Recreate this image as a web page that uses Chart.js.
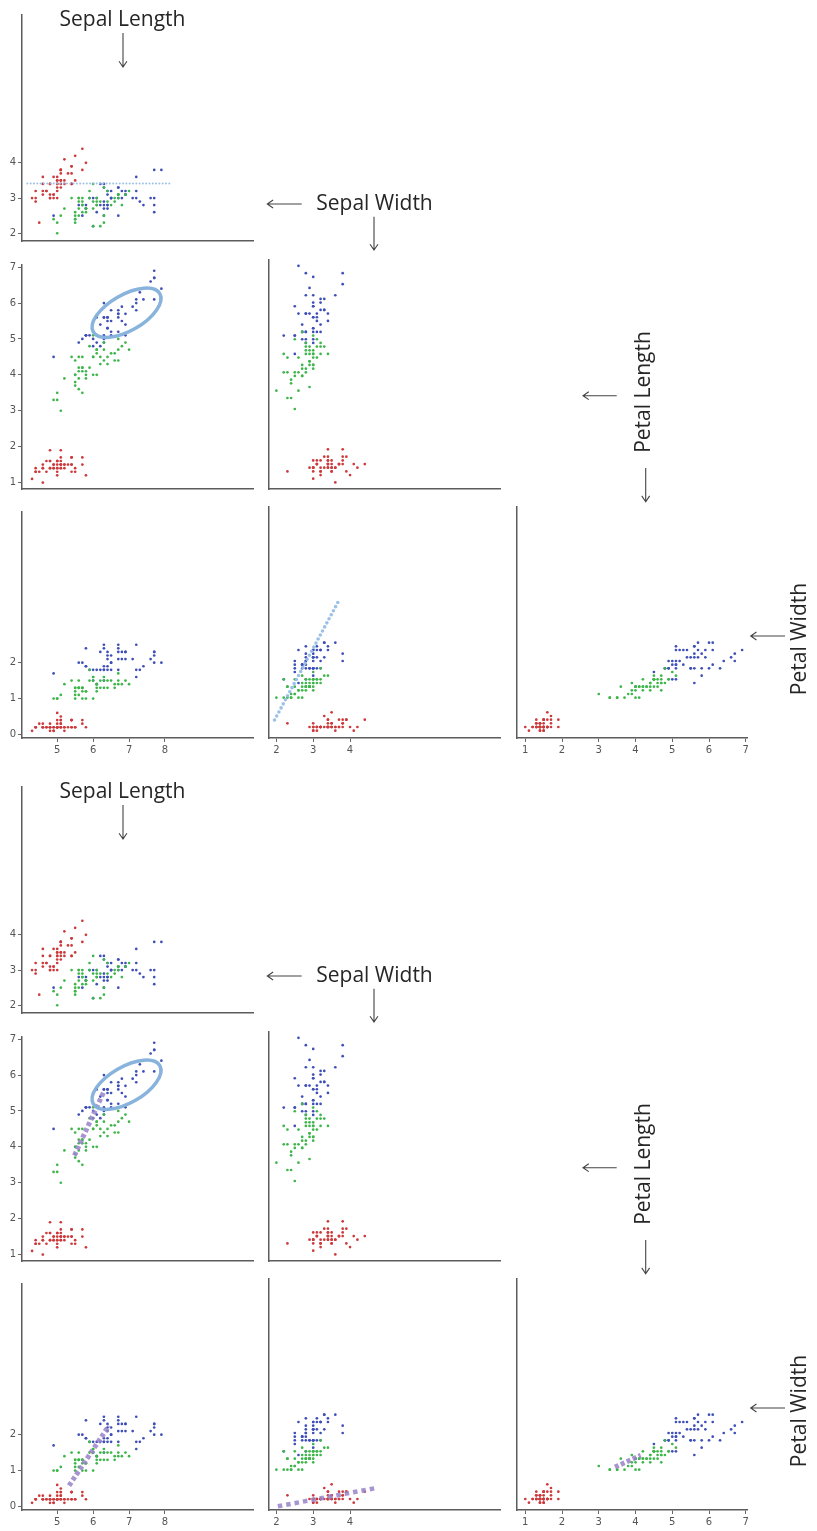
<!DOCTYPE html>
<html>
<head>
<meta charset="utf-8">
<script src="https://cdn.jsdelivr.net/npm/chart.js@4.4.1/dist/chart.umd.min.js"></script>
<style>
  html, body { margin: 0; padding: 0; background: #fff; }
  #page { position: relative; width: 817px; height: 1531px; overflow: hidden; }
  #page canvas { position: absolute; }
  .lbl { position: absolute; font-family: "Open Sans", sans-serif; font-size: 21px; color: #262626;
         white-space: nowrap; line-height: 1; transform: translate(-50%, -50%); }
  .lbl.rot { transform: translate(-50%, -50%) rotate(-90deg); }
  #arrows { position: absolute; left: 0; top: 0; }
</style>
</head>
<body>
<div id="page"></div>
<script>
// iris measurements, one array per species and measure
const setosaSL = [5.1,4.9,4.7,4.6,5.0,5.4,4.6,5.0,4.4,4.9,5.4,4.8,4.8,4.3,5.8,5.7,5.4,5.1,5.7,5.1,5.4,5.1,4.6,5.1,4.8,5.0,5.0,5.2,5.2,4.7,4.8,5.4,5.2,5.5,4.9,5.0,5.5,4.9,4.4,5.1,5.0,4.5,4.4,5.0,5.1,4.8,5.1,4.6,5.3,5.0];
const setosaSW = [3.5,3.0,3.2,3.1,3.6,3.9,3.4,3.4,2.9,3.1,3.7,3.4,3.0,3.0,4.0,4.4,3.9,3.5,3.8,3.8,3.4,3.7,3.6,3.3,3.4,3.0,3.4,3.5,3.4,3.2,3.1,3.4,4.1,4.2,3.1,3.2,3.5,3.6,3.0,3.4,3.5,2.3,3.2,3.5,3.8,3.0,3.8,3.2,3.7,3.3];
const setosaPL = [1.4,1.4,1.3,1.5,1.4,1.7,1.4,1.5,1.4,1.5,1.5,1.6,1.4,1.1,1.2,1.5,1.3,1.4,1.7,1.5,1.7,1.5,1.0,1.7,1.9,1.6,1.6,1.5,1.4,1.6,1.6,1.5,1.5,1.4,1.5,1.2,1.3,1.4,1.3,1.5,1.3,1.3,1.3,1.6,1.9,1.4,1.6,1.4,1.5,1.4];
const setosaPW = [0.2,0.2,0.2,0.2,0.2,0.4,0.3,0.2,0.2,0.1,0.2,0.2,0.1,0.1,0.2,0.4,0.4,0.3,0.3,0.3,0.2,0.4,0.2,0.5,0.2,0.2,0.4,0.2,0.2,0.2,0.2,0.4,0.1,0.2,0.2,0.2,0.2,0.1,0.2,0.2,0.3,0.3,0.2,0.6,0.4,0.3,0.2,0.2,0.2,0.2];

const versicolorSL = [7.0,6.4,6.9,5.5,6.5,5.7,6.3,4.9,6.6,5.2,5.0,5.9,6.0,6.1,5.6,6.7,5.6,5.8,6.2,5.6,5.9,6.1,6.3,6.1,6.4,6.6,6.8,6.7,6.0,5.7,5.5,5.5,5.8,6.0,5.4,6.0,6.7,6.3,5.6,5.5,5.5,6.1,5.8,5.0,5.6,5.7,5.7,6.2,5.1,5.7];
const versicolorSW = [3.2,3.2,3.1,2.3,2.8,2.8,3.3,2.4,2.9,2.7,2.0,3.0,2.2,2.9,2.9,3.1,3.0,2.7,2.2,2.5,3.2,2.8,2.5,2.8,2.9,3.0,2.8,3.0,2.9,2.6,2.4,2.4,2.7,2.7,3.0,3.4,3.1,2.3,3.0,2.5,2.6,3.0,2.6,2.3,2.7,3.0,2.9,2.9,2.5,2.8];
const versicolorPL = [4.7,4.5,4.9,4.0,4.6,4.5,4.7,3.3,4.6,3.9,3.5,4.2,4.0,4.7,3.6,4.4,4.5,4.1,4.5,3.9,4.8,4.0,4.9,4.7,4.3,4.4,4.8,5.0,4.5,3.5,3.8,3.7,3.9,5.1,4.5,4.5,4.7,4.4,4.1,4.0,4.4,4.6,4.0,3.3,4.2,4.2,4.2,4.3,3.0,4.1];
const versicolorPW = [1.4,1.5,1.5,1.3,1.5,1.3,1.6,1.0,1.3,1.4,1.0,1.5,1.0,1.4,1.3,1.4,1.5,1.0,1.5,1.1,1.8,1.3,1.5,1.2,1.3,1.4,1.4,1.7,1.5,1.0,1.1,1.0,1.2,1.6,1.5,1.6,1.5,1.3,1.3,1.3,1.2,1.4,1.2,1.0,1.3,1.2,1.3,1.3,1.1,1.3];

const virginicaSL = [6.3,5.8,7.1,6.3,6.5,7.6,4.9,7.3,6.7,7.2,6.5,6.4,6.8,5.7,5.8,6.4,6.5,7.7,7.7,6.0,6.9,5.6,7.7,6.3,6.7,7.2,6.2,6.1,6.4,7.2,7.4,7.9,6.4,6.3,6.1,7.7,6.3,6.4,6.0,6.9,6.7,6.9,5.8,6.8,6.7,6.7,6.3,6.5,6.2,5.9];
const virginicaSW = [3.3,2.7,3.0,2.9,3.0,3.0,2.5,2.9,2.5,3.6,3.2,2.7,3.0,2.5,2.8,3.2,3.0,3.8,2.6,2.2,3.2,2.8,2.8,2.7,3.3,3.2,2.8,3.0,2.8,3.0,2.8,3.8,2.8,2.8,2.6,3.0,3.4,3.1,3.0,3.1,3.1,3.1,2.7,3.2,3.3,3.0,2.5,3.0,3.4,3.0];
const virginicaPL = [6.0,5.1,5.9,5.6,5.8,6.6,4.5,6.3,5.8,6.1,5.1,5.3,5.5,5.0,5.1,5.3,5.5,6.7,6.9,5.0,5.7,4.9,6.7,4.9,5.7,6.0,4.8,4.9,5.6,5.8,6.1,6.4,5.6,5.1,5.6,6.1,5.6,5.5,4.8,5.4,5.6,5.1,5.1,5.9,5.7,5.2,5.0,5.2,5.4,5.1];
const virginicaPW = [2.5,1.9,2.1,1.8,2.2,2.1,1.7,1.8,1.8,2.5,2.0,1.9,2.1,2.0,2.4,2.3,1.8,2.2,2.3,1.5,2.3,2.0,2.0,1.8,2.1,1.8,1.8,1.8,2.1,1.6,1.9,2.0,2.2,1.5,1.4,2.3,2.4,1.8,1.8,2.1,2.4,2.3,1.9,2.3,2.5,2.3,1.9,2.0,2.3,1.8];

// tick labels shown on the outer axes
const sepalLengthTicks = [5, 6, 7, 8];
const sepalWidthTicks = [2, 3, 4];
const petalLengthTicks = [1, 2, 3, 4, 5, 6, 7];
const petalWidthTicks = [0, 1, 2];

// hand drawn marks (data coordinates)
const meanWidthLine = [[4.17, 3.41], [8.17, 3.41]];
const steepFitLine = [[1.95, 0.39], [3.67, 3.6]];
const ellipseCenter = [6.93, 5.73];
const purpleLengthLine = [[5.48, 3.76], [6.30, 5.54]];
const purpleWidthLine = [[5.33, 0.58], [6.44, 2.25]];
const purpleSepalWidthLine = [[2.04, 0.0], [4.76, 0.51]];
const purplePetalLine = [[3.44, 1.07], [4.14, 1.39]];

const SPECIES_COLORS = ['#cc3a3c', '#3fb64b', '#3e4fb8'];
const PAD_L = 26, PAD_B = 26, PAD_T = 3, PAD_R = 3;
const MATRIX_OFFSET = 772;

const measures = {
  SL: { data: [setosaSL, versicolorSL, virginicaSL], ticks: sepalLengthTicks },
  SW: { data: [setosaSW, versicolorSW, virginicaSW], ticks: sepalWidthTicks },
  PL: { data: [setosaPL, versicolorPL, virginicaPL], ticks: petalLengthTicks },
  PW: { data: [setosaPW, versicolorPW, virginicaPW], ticks: petalWidthTicks }
};

// axis ranges, every cell keeps the same pixels per unit
const xRange = { SL: [4.02, 10.45], SW: [1.8, 8.07], PL: [0.775, 7.06] };
const yRange = { SW: [1.78, 8.2], PL: [0.82, 7.06], PW: [-0.1, 6.2] };

const cols = [{ left: 22, w: 231 }, { left: 269, w: 231 }, { left: 517, w: 231 }];
const rows = [{ top: 10, h: 231 }, { top: 260, h: 229 }, { top: 507, h: 231 }];

const page = document.getElementById('page');

// draws the rotated ellipse around the upper cluster
const ellipsePlugin = {
  id: 'ellipseNote',
  afterDatasetsDraw(chart, args, opts) {
    if (!opts || !opts.center) return;
    const { ctx, scales } = chart;
    const cx = scales.x.getPixelForValue(opts.center[0]);
    const cy = scales.y.getPixelForValue(opts.center[1]);
    ctx.save();
    ctx.strokeStyle = opts.color;
    ctx.lineWidth = opts.width;
    ctx.beginPath();
    ctx.ellipse(cx, cy, opts.rx, opts.ry, -opts.angle * Math.PI / 180, 0, Math.PI * 2);
    ctx.stroke();
    ctx.restore();
  }
};

function axis(range, ticks, show, pos) {
  return {
    type: 'linear', position: pos, min: range[0], max: range[1],
    afterBuildTicks: s => { s.ticks = ticks.map(v => ({ value: v })); },
    afterFit: s => { if (pos === 'left') s.width = PAD_L; else s.height = PAD_B; },
    border: { display: true, color: '#5c5c5c', width: 1.5 },
    grid: { display: show, drawOnChartArea: false, drawTicks: true, tickLength: 4, color: '#666', tickWidth: 1 },
    ticks: {
      display: show, padding: 2, color: '#555', maxRotation: 0, autoSkip: false,
      font: { family: 'DejaVu Sans', size: 10 },
      callback: v => String(v)
    }
  };
}

function markLine(pts, color, width, dash, cap) {
  return {
    type: 'line', data: pts.map(p => ({ x: p[0], y: p[1] })), showLine: true,
    borderColor: color, borderWidth: width, borderDash: dash, borderCapStyle: cap,
    pointRadius: 0, fill: false, order: -1
  };
}

function makeCell(xKey, yKey, ci, ri, offY, marks, ellipse) {
  const col = cols[ci], row = rows[ri];
  const cv = document.createElement('canvas');
  cv.width = col.w + PAD_L + PAD_R;
  cv.height = row.h + PAD_T + PAD_B;
  cv.style.left = (col.left - PAD_L) + 'px';
  cv.style.top = (row.top + offY - PAD_T) + 'px';
  page.appendChild(cv);

  const datasets = SPECIES_COLORS.map((c, s) => ({
    type: 'scatter',
    data: measures[xKey].data[s].map((v, i) => ({ x: v, y: measures[yKey].data[s][i] })),
    backgroundColor: c, borderWidth: 0, pointRadius: 1.35, pointHoverRadius: 1.35
  }));

  new Chart(cv, {
    type: 'scatter',
    data: { datasets: marks.concat(datasets) },
    options: {
      responsive: false, animation: false, events: [],
      layout: { padding: { left: 0, top: PAD_T, right: PAD_R, bottom: 0 } },
      scales: {
        x: axis(xRange[xKey], measures[xKey].ticks, ri === 2, 'bottom'),
        y: axis(yRange[yKey], measures[yKey].ticks, ci === 0, 'left')
      },
      plugins: { legend: { display: false }, tooltip: { enabled: false }, ellipseNote: ellipse || {} }
    },
    plugins: [ellipsePlugin]
  });
}

const lightBlue = 'rgba(150,190,230,0.95)';
const ellipseStyle = { center: ellipseCenter, rx: 38.4, ry: 18, angle: 30, color: 'rgba(130,175,218,0.95)', width: 3.5 };
const purple = 'rgba(150,130,200,0.85)';

// upper matrix
makeCell('SL', 'SW', 0, 0, 0, [markLine(meanWidthLine, lightBlue, 2, [0, 3.3], 'round')]);
makeCell('SL', 'PL', 0, 1, 0, [], ellipseStyle);
makeCell('SW', 'PL', 1, 1, 0, []);
makeCell('SL', 'PW', 0, 2, 0, []);
makeCell('SW', 'PW', 1, 2, 0, [markLine(steepFitLine, lightBlue, 3.6, [0, 4.6], 'round')]);
makeCell('PL', 'PW', 2, 2, 0, []);

// lower matrix
const off = MATRIX_OFFSET;
makeCell('SL', 'SW', 0, 0, off, []);
makeCell('SL', 'PL', 0, 1, off, [markLine(purpleLengthLine, purple, 5, [4, 2.5], 'butt')], ellipseStyle);
makeCell('SW', 'PL', 1, 1, off, []);
makeCell('SL', 'PW', 0, 2, off, [markLine(purpleWidthLine, purple, 5, [4, 2.5], 'butt')]);
makeCell('SW', 'PW', 1, 2, off, [markLine(purpleSepalWidthLine, purple, 4.5, [4.5, 4], 'butt')]);
makeCell('PL', 'PW', 2, 2, off, [markLine(purplePetalLine, purple, 5, [4, 2.5], 'butt')]);

// variable names with arrows
const labels = [
  { text: 'Sepal Length', x: 122.5, y: 18 },
  { text: 'Sepal Width', x: 374.5, y: 202 },
  { text: 'Petal Length', x: 642, y: 392, rot: true },
  { text: 'Petal Width', x: 798, y: 639, rot: true }
];
const arrows = [
  [123, 33, 123, 67],
  [301.7, 204, 267.3, 204],
  [374, 216.7, 374, 250],
  [616.7, 395.7, 583, 395.7],
  [645.7, 468, 645.7, 501.7],
  [785, 636, 750.7, 636]
];

const svgNS = 'http://www.w3.org/2000/svg';
const svg = document.createElementNS(svgNS, 'svg');
svg.setAttribute('id', 'arrows');
svg.setAttribute('width', 817);
svg.setAttribute('height', 1531);
page.appendChild(svg);

[0, MATRIX_OFFSET].forEach(dy => {
  labels.forEach(l => {
    const d = document.createElement('div');
    d.className = 'lbl' + (l.rot ? ' rot' : '');
    d.textContent = l.text;
    d.style.left = l.x + 'px';
    d.style.top = (l.y + dy) + 'px';
    page.appendChild(d);
  });
  arrows.forEach(a => {
    const [x1, y1, x2, y2] = [a[0], a[1] + dy, a[2], a[3] + dy];
    const ang = Math.atan2(y2 - y1, x2 - x1);
    const hl = 7, spread = 0.6;
    const p = `M${x1},${y1} L${x2},${y2} M${x2 - hl * Math.cos(ang - spread)},${y2 - hl * Math.sin(ang - spread)} L${x2},${y2} L${x2 - hl * Math.cos(ang + spread)},${y2 - hl * Math.sin(ang + spread)}`;
    const path = document.createElementNS(svgNS, 'path');
    path.setAttribute('d', p);
    path.setAttribute('stroke', '#444');
    path.setAttribute('stroke-width', '1.1');
    path.setAttribute('fill', 'none');
    svg.appendChild(path);
  });
});
</script>
</body>
</html>
